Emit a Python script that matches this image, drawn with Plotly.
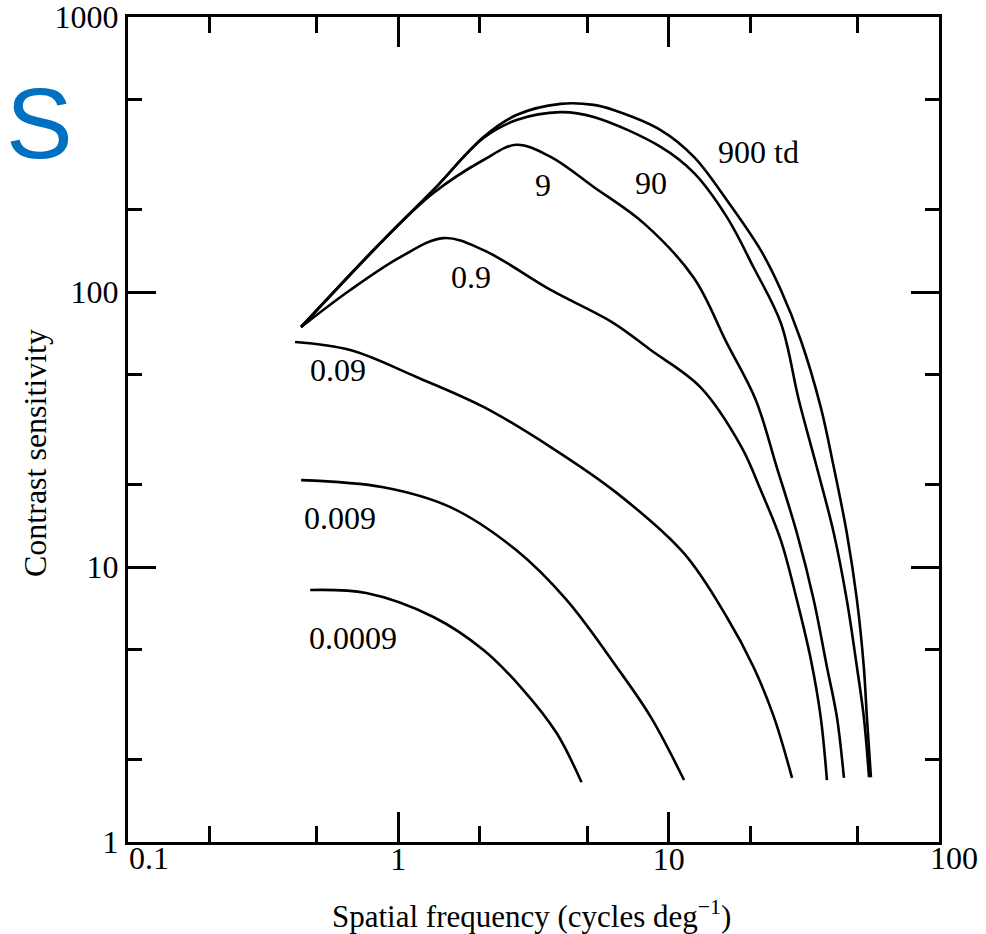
import numpy as np
import plotly.graph_objects as go

# Contrast sensitivity vs spatial frequency at several retinal illuminances (td)
f_900 = [0.437, 0.88, 1.348, 2.065, 2.735, 3.98, 5.28, 6.25, 9.34, 12.4, 16.4, 21.9,
         26.0, 30.8, 36.5, 40.8, 45.6, 49.7, 52.7, 54.1, 56.0]
s_900 = [74.6, 154.5, 235, 366, 440, 483, 479, 459, 388, 310, 216, 142,
         101.7, 66.9, 38.2, 23.1, 13.3, 7.59, 4.33, 2.85, 1.72]

f_90 = [0.437, 0.88, 1.348, 2.065, 2.735, 3.98, 5.28, 9.34, 12.4, 16.4, 20.6, 26.0,
        30.3, 35.3, 40.8, 45.6, 49.7, 52.7, 55.1]
s_90 = [74.6, 154.5, 235, 363, 422, 451, 433, 337, 271, 187.5, 123, 77.1,
        40.5, 23.1, 13.3, 7.59, 4.33, 2.85, 1.72]

f_9 = [0.437, 0.88, 1.348, 2.065, 2.735, 3.66, 5.28, 8.08, 12.4, 16.4, 21.0, 25.1,
       29.8, 34.4, 38.5, 41.9, 44.5]
s_9 = [74.6, 154.5, 229, 302, 343, 310, 241, 178, 112.5, 65.3, 40.5, 23.1,
       13.3, 7.59, 4.33, 2.85, 1.71]

f_0_9 = [0.437, 0.664, 1.017, 1.468, 2.065, 3.66, 6.25, 8.58, 13.1, 18.6, 21.9, 26.0,
         29.8, 33.6, 36.5, 38.5]
s_0_9 = [74.6, 101.7, 134, 157, 142, 101.7, 77.1, 61.5, 45.1, 27.3, 19.05, 12.5,
         7.59, 4.59, 2.85, 1.68]

f_0_09 = [0.415, 0.664, 1.166, 2.065, 3.66, 6.42, 11.4, 16.4, 20.6, 24.5, 28.6]
s_0_09 = [65.8, 61.5, 49.1, 38.2, 27.3, 18.6, 11.2, 6.58, 4.33, 2.85, 1.71]

f_0_009 = [0.437, 0.88, 1.558, 2.735, 4.19, 6.42, 8.58, 11.4]
s_0_009 = [20.7, 19.5, 16.5, 11.5, 7.59, 4.33, 2.85, 1.68]

f_0_0009 = [0.472, 0.761, 1.348, 2.065, 2.90, 3.85, 4.76]
s_0_0009 = [8.25, 8.04, 6.58, 4.99, 3.57, 2.49, 1.65]

curves = [(f_900, s_900), (f_90, s_90), (f_9, s_9), (f_0_9, s_0_9),
          (f_0_09, s_0_09), (f_0_009, s_0_009), (f_0_0009, s_0_0009)]

# Curve labels and where they sit (frequency, sensitivity)
label_text = ["900 td", "90", "9", "0.9", "0.09", "0.009", "0.0009"]
label_f = [21.5, 8.58, 3.44, 1.85, 0.60, 0.61, 0.68]
label_s = [323, 249, 245, 113, 52, 15.1, 5.52]

x_major = [1, 10]
x_major_text = ["1", "10"]
# labels at the two ends of the frequency axis, nudged inside the frame corners
x_end = [0.1, 100]
x_end_text = ["0.1", "100"]
x_end_shift = [21, 15]
x_minor = [0.2, 0.5, 2, 5, 20, 50]
y_major = [1, 10, 100, 1000]
y_major_text = ["1", "10", "100", "1000"]
y_minor = [2, 5, 20, 50, 200, 500]

SERIF = "Liberation Serif, Times New Roman, serif"
FS = 32

fig = go.Figure()
for f, s in curves:
    fig.add_trace(go.Scatter(
        x=f, y=s, mode="lines",
        line=dict(color="black", width=2.6, shape="spline", smoothing=1.0),
        showlegend=False, hoverinfo="skip"))

annotations = []
for t, fx, sy in zip(label_text, label_f, label_s):
    annotations.append(dict(
        x=np.log10(fx), y=np.log10(sy), xref="x", yref="y", text=t,
        showarrow=False, font=dict(family=SERIF, size=FS, color="black"),
        xanchor="center", yanchor="middle"))

for fx, t, dx in zip(x_end, x_end_text, x_end_shift):
    annotations.append(dict(
        x=np.log10(fx), y=0, xref="x", yref="paper", xshift=dx, yshift=-16,
        text=t, showarrow=False, font=dict(family=SERIF, size=FS, color="black"),
        xanchor="center", yanchor="middle"))

# Axis titles
annotations.append(dict(
    x=0.497, y=0, xref="paper", yref="paper", yshift=-72,
    text="Spatial frequency (cycles deg<sup>\u22121</sup>)", showarrow=False,
    font=dict(family=SERIF, size=31, color="black"),
    xanchor="center", yanchor="middle"))
annotations.append(dict(
    x=0, y=0.4715, xref="paper", yref="paper", xshift=-93,
    text="Contrast sensitivity", textangle=-90, showarrow=False,
    font=dict(family=SERIF, size=FS, color="black"),
    xanchor="center", yanchor="middle"))

# Panel letter
annotations.append(dict(
    x=0, y=0.8715, xref="paper", yref="paper", xshift=-89,
    text="S", showarrow=False,
    font=dict(family="Liberation Sans, Arial, sans-serif", size=100, color="#0070C0"),
    xanchor="center", yanchor="middle"))

axis_common = dict(
    type="log", showgrid=False, zeroline=False, automargin=False,
    showline=True, linecolor="black", linewidth=3, mirror="ticks",
    ticks="inside", tickcolor="black", tickwidth=2.5,
    ticklabeloverflow="allow",
    tickfont=dict(family=SERIF, size=FS, color="black"),
)

fig.update_layout(
    width=986, height=934,
    margin=dict(l=128, r=47, t=17, b=92),
    paper_bgcolor="white", plot_bgcolor="white",
    xaxis=dict(**axis_common, range=[-1, 2], tickvals=x_major, ticktext=x_major_text,
               ticklen=30, ticklabelstandoff=-13,
               minor=dict(ticks="inside", tickvals=x_minor, ticklen=16,
                          tickwidth=2.5, tickcolor="black", showgrid=False)),
    yaxis=dict(**axis_common, range=[0, 3], tickvals=y_major, ticktext=y_major_text,
               ticklen=28,
               minor=dict(ticks="inside", tickvals=y_minor, ticklen=14,
                          tickwidth=2.5, tickcolor="black", showgrid=False)),
    annotations=annotations,
)

fig.write_html("out.html")
